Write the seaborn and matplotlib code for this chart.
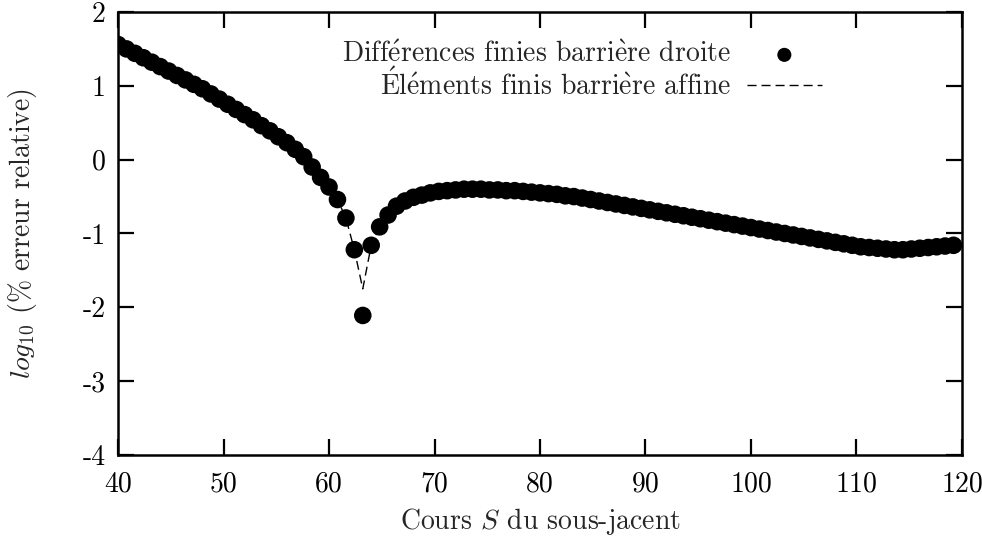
import numpy as np
import pandas as pd
import matplotlib
matplotlib.use("Agg")
import matplotlib.pyplot as plt
import seaborn as sns

# Underlying price grid (step 0.8) and log10 of the relative error in %
spot = [40.0 + 0.8 * k for k in range(100)]
err_fd = [
    1.56, 1.50, 1.44, 1.38, 1.32, 1.26, 1.20, 1.14, 1.08, 1.02,
    0.96, 0.89, 0.82, 0.75, 0.68, 0.61, 0.54, 0.46, 0.39, 0.31,
    0.23, 0.14, 0.04, -0.10, -0.24, -0.37, -0.54, -0.79, -1.22, -2.11,
    -1.16, -0.91, -0.75, -0.63, -0.56, -0.51, -0.48, -0.45, -0.43, -0.42,
    -0.41, -0.40, -0.40, -0.40, -0.41, -0.41, -0.42, -0.42, -0.43, -0.44,
    -0.45, -0.46, -0.47, -0.49, -0.50, -0.52, -0.54, -0.56, -0.58, -0.60,
    -0.62, -0.64, -0.66, -0.68, -0.70, -0.72, -0.74, -0.76, -0.78, -0.80,
    -0.82, -0.84, -0.86, -0.88, -0.90, -0.92, -0.94, -0.96, -0.98, -1.00,
    -1.02, -1.04, -1.06, -1.08, -1.10, -1.12, -1.14, -1.16, -1.18, -1.19,
    -1.20, -1.21, -1.22, -1.22, -1.21, -1.20, -1.19, -1.18, -1.17, -1.16,
]
err_fe = list(err_fd)
err_fe[29] = -1.75

# Accented letters typeset with TeX-style accents
label_fd = r"Diff$\acute{\mathrm{e}}$rences finies barri$\grave{\mathrm{e}}$re droite"
label_fe = r"$\acute{\mathrm{E}}$l$\acute{\mathrm{e}}$ments finis barri$\grave{\mathrm{e}}$re affine"
x_ticks = [40, 50, 60, 70, 80, 90, 100, 110, 120]
y_ticks = [-4, -3, -2, -1, 0, 1, 2]

sns.set_theme(style="ticks")
plt.rcParams["font.family"] = ["cmr10", "DejaVu Serif"]
plt.rcParams["mathtext.fontset"] = "cm"
plt.rcParams["axes.unicode_minus"] = False
plt.rcParams["axes.formatter.use_mathtext"] = True

df = pd.DataFrame({"S": spot, "fd": err_fd, "fe": err_fe})

fig = plt.figure(figsize=(9.82, 5.37), dpi=100)
ax = fig.add_axes([0.1202, 0.1527, 0.8594, 0.8250])

sns.lineplot(data=df, x="S", y="fe", ax=ax, color="black", linewidth=1.0,
             dashes=False, label=label_fe, zorder=2)
ax.lines[-1].set_dashes([6.5, 3.6])
sns.scatterplot(data=df, x="S", y="fd", ax=ax, color="black", s=160,
                edgecolor="none", label=label_fd, zorder=3)

ax.set_xlim(40, 120)
ax.set_ylim(-4, 2)
ax.set_xticks(x_ticks)
ax.set_xticklabels([f"{v:g}" for v in x_ticks])
ax.set_yticks(y_ticks)
ax.set_yticklabels([f"{v:g}" for v in y_ticks])

fs = 20
ax.tick_params(direction="in", length=11.5, width=1.6, top=True, right=True,
               labelsize=fs, pad=9, colors="black")
ax.tick_params(axis="x", pad=12)
for sp in ax.spines.values():
    sp.set_linewidth(1.8)
    sp.set_color("black")

ax.set_xlabel("Cours $S$ du sous-jacent", fontsize=fs, labelpad=6)
ax.set_ylabel("$log_{10}$ (% erreur relative)", fontsize=fs, labelpad=31)

handles, labels = ax.get_legend_handles_labels()
order = [labels.index(label_fd), labels.index(label_fe)]
ax.legend([handles[i] for i in order], [labels[i] for i in order],
          loc="upper right", bbox_to_anchor=(0.857, 0.978), frameon=False,
          markerfirst=False, fontsize=fs, handlelength=2.7, handletextpad=0.55,
          labelspacing=0.0, borderpad=0.2, markerscale=0.8)

fig.savefig("out.png", dpi=100, facecolor="white")
